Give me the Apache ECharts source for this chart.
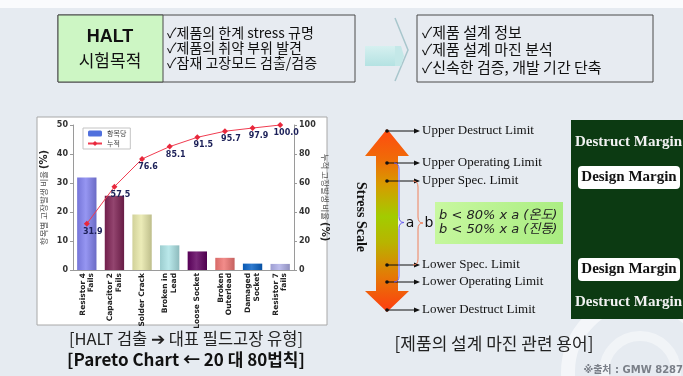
<!DOCTYPE html>
<html>
<head>
<meta charset="utf-8">
<script src="https://cdn.jsdelivr.net/npm/echarts@6/dist/echarts.min.js"></script>
<style>
  html, body { margin: 0; padding: 0; background: #e6ebf1; }
  #main { width: 683px; height: 376px; }
</style>
</head>
<body>
<div id="main"></div>
<script>
// pareto data
var categories = ['Resistor 4\nFails', 'Capacitor 2\nFails', 'Solder Crack', 'Broken in\nLead',
  'Loose Socket', 'Broken\nOuterlead', 'Damaged\nSocket', 'Resistor 7\nfails'];
var itemRatio = [31.9, 25.6, 19.1, 8.5, 6.4, 4.2, 2.2, 2.1];
var cumRatio = [31.9, 57.5, 76.6, 85.1, 91.5, 95.7, 97.9, 100.0];
var leftTicks = [0, 10, 20, 30, 40, 50];
var rightTicks = [0, 20, 40, 60, 80, 100];

// slide text
var purposeLines = ['✓제품의 한계 stress 규명', '✓제품의 취약 부위 발견', '✓잠재 고장모드 검출/검증'];
var resultLines = ['✓제품 설계 정보', '✓제품 설계 마진 분석', '✓신속한 검증, 개발 기간 단축'];
var limitNames = ['Upper Destruct Limit', 'Upper Operating Limit', 'Upper Spec. Limit',
  'Lower Spec. Limit', 'Lower Operating Limit', 'Lower Destruct Limit'];

var barColors = ['#8282f0', '#7e2254', '#e8e8aa', '#ade4e6', '#600060', '#f07674', '#0862c6', '#b0b0e8'];
var limitY = [131, 163, 181, 265, 282, 310];

var KR = '"Noto Sans CJK KR", sans-serif';
var SERIF = '"Liberation Serif", "DejaVu Serif", serif';
var SANS = '"DejaVu Sans", sans-serif';

function shade(hex, k) {
  var n = parseInt(hex.slice(1), 16);
  var r = (n >> 16) & 255, g = (n >> 8) & 255, b = n & 255;
  function f(c) {
    c = k > 0 ? c + (255 - c) * k : c * (1 + k);
    return Math.round(Math.max(0, Math.min(255, c)));
  }
  return 'rgb(' + f(r) + ',' + f(g) + ',' + f(b) + ')';
}

function brace(x0, xs, xt, yT, yB, color) {
  var ym = (yT + yB) / 2, r = 6;
  var st = { stroke: color, lineWidth: 1, fill: null };
  return [
    { type: 'bezierCurve', shape: { x1: x0, y1: yT, cpx1: xs, cpy1: yT, x2: xs, y2: yT + r }, style: st },
    { type: 'line', shape: { x1: xs, y1: yT + r, x2: xs, y2: ym - r }, style: st },
    { type: 'bezierCurve', shape: { x1: xs, y1: ym - r, cpx1: xs, cpy1: ym, x2: xt, y2: ym }, style: st },
    { type: 'bezierCurve', shape: { x1: xt, y1: ym, cpx1: xs, cpy1: ym, x2: xs, y2: ym + r }, style: st },
    { type: 'line', shape: { x1: xs, y1: ym + r, x2: xs, y2: yB - r }, style: st },
    { type: 'bezierCurve', shape: { x1: xs, y1: yB - r, cpx1: xs, cpy1: yB, x2: x0, y2: yB }, style: st }
  ];
}

var g = [];
// background
g.push({ type: 'rect', z: -10, shape: { x: 0, y: 0, width: 683, height: 8 }, style: { fill: '#fafbfd' } });
g.push({ type: 'circle', z: -9, shape: { cx: 640, cy: 372, r: 72 }, style: { fill: null, stroke: 'rgba(255,255,255,0.55)', lineWidth: 14 } });
g.push({ type: 'circle', z: -9, shape: { cx: 640, cy: 372, r: 36 }, style: { fill: null, stroke: 'rgba(255,255,255,0.45)', lineWidth: 10 } });

// top left box
g.push({ type: 'rect', shape: { x: 58, y: 15, width: 297, height: 67 }, style: { fill: '#e7ebf1', stroke: '#4a4a4a', lineWidth: 1 } });
g.push({ type: 'rect', shape: { x: 58, y: 15, width: 105, height: 67 }, style: { fill: '#cdf6c4', stroke: '#4a4a4a', lineWidth: 1 } });
g.push({ type: 'text', style: { text: 'HALT', x: 110, y: 37, textAlign: 'center', textVerticalAlign: 'middle', font: 'bold 18px "Liberation Sans", Arial, sans-serif', fill: '#111' } });
g.push({ type: 'text', style: { text: '시험목적', x: 110, y: 61, textAlign: 'center', textVerticalAlign: 'middle', font: '17px ' + KR, fill: '#111' } });
purposeLines.forEach(function (t, i) {
  g.push({ type: 'text', style: { text: t, x: 167, y: 33 + i * 15, textVerticalAlign: 'middle', font: '14px ' + KR, fill: '#111' } });
});
// chevron
g.push({ type: 'rect', shape: { x: 365, y: 46, width: 32, height: 20 }, style: { fill: new echarts.graphic.LinearGradient(0, 0, 0, 1, [{ offset: 0, color: '#d6f0f0' }, { offset: 1, color: '#b4e2e2' }]) } });
g.push({ type: 'polyline', shape: { points: [[395, 18], [408, 50], [395, 81]] }, style: { stroke: '#a8c6cc', lineWidth: 1.5, fill: null } });
g.push({ type: 'polygon', shape: { points: [[395, 46], [401, 46], [404, 56], [401, 66], [395, 66]] }, style: { fill: '#c4e8e8' } });
// top right box
g.push({ type: 'rect', shape: { x: 417, y: 15, width: 236, height: 67 }, style: { fill: '#e7ebf1', stroke: '#4a4a4a', lineWidth: 1 } });
resultLines.forEach(function (t, i) {
  g.push({ type: 'text', style: { text: t, x: 422, y: 32 + i * 17.5, textVerticalAlign: 'middle', font: '15px ' + KR, fill: '#111' } });
});

// chart panel
g.push({ type: 'rect', z: -5, shape: { x: 37, y: 117, width: 290, height: 208 }, style: { fill: '#ffffff', stroke: '#a8a8a8', lineWidth: 1 } });
g.push({ type: 'text', style: { text: '[HALT 검출 ➔ 대표 필드고장 유형]', x: 186, y: 339, textAlign: 'center', textVerticalAlign: 'middle', font: '16.5px ' + KR, fill: '#222' } });
g.push({ type: 'text', style: { text: '[Pareto Chart ← 20 대 80법칙]', x: 186, y: 360, textAlign: 'center', textVerticalAlign: 'middle', font: 'bold 17px ' + KR, fill: '#111' } });

// stress scale arrow
g.push({
  type: 'polygon',
  shape: { points: [[387, 129], [409, 156], [398, 156], [398, 291], [409, 291], [387, 312], [365, 291], [376, 291], [376, 156], [365, 156]] },
  style: {
    fill: new echarts.graphic.LinearGradient(0, 0, 0, 1, [
      { offset: 0, color: '#ff4a10' }, { offset: 0.16, color: '#f06a08' }, { offset: 0.3, color: '#d89a00' },
      { offset: 0.48, color: '#a2cc00' }, { offset: 0.62, color: '#b8b400' }, { offset: 0.8, color: '#e47a06' },
      { offset: 1, color: '#ff3c10' }])
  }
});
g.push({ type: 'text', x: 361, y: 217, rotation: -Math.PI / 2, style: { text: 'Stress Scale', x: 0, y: 0, textAlign: 'center', textVerticalAlign: 'middle', font: 'bold 14px ' + SERIF, fill: '#111' } });
limitNames.forEach(function (t, i) {
  var y = limitY[i];
  g.push({ type: 'line', shape: { x1: 387, y1: y, x2: 416, y2: y }, style: { stroke: '#111', lineWidth: 1 } });
  g.push({ type: 'circle', shape: { cx: 387, cy: y, r: 1.8 }, style: { fill: '#111' } });
  g.push({ type: 'polygon', shape: { points: [[420, y], [414, y - 2.5], [414, y + 2.5]] }, style: { fill: '#111' } });
  g.push({ type: 'text', style: { text: t, x: 422, y: y, textVerticalAlign: 'middle', font: '13px ' + SERIF, fill: '#111' } });
});
g = g.concat(brace(394, 399, 404, 163, 282, '#6a5cf0'));
g = g.concat(brace(413, 418, 423, 181, 265, '#f0805a'));
g.push({ type: 'text', style: { text: 'a', x: 410, y: 223, textAlign: 'center', textVerticalAlign: 'middle', font: '14px ' + SANS, fill: '#111' } });
g.push({ type: 'text', style: { text: 'b', x: 429, y: 223, textAlign: 'center', textVerticalAlign: 'middle', font: '14px ' + SANS, fill: '#111' } });
g.push({ type: 'rect', shape: { x: 435, y: 202, width: 128, height: 42 }, style: { fill: new echarts.graphic.LinearGradient(0, 0, 1, 1, [{ offset: 0, color: '#c8f8a0' }, { offset: 1, color: '#a8ec80' }]) } });
g.push({ type: 'text', style: { text: 'b < 80% x a (온도)', x: 439, y: 216, textVerticalAlign: 'middle', font: 'italic 13px "DejaVu Sans", ' + KR, fill: '#222' } });
g.push({ type: 'text', style: { text: 'b < 50% x a (진동)', x: 439, y: 230, textVerticalAlign: 'middle', font: 'italic 13px "DejaVu Sans", ' + KR, fill: '#222' } });

// margin panel
g.push({ type: 'rect', shape: { x: 571, y: 120, width: 120, height: 199 }, style: { fill: '#0c3a12' } });
g.push({ type: 'text', style: { text: 'Destruct Margin', x: 575, y: 142, textVerticalAlign: 'middle', font: 'bold 15px ' + SERIF, fill: '#f2f2f2' } });
g.push({ type: 'text', style: { text: 'Destruct Margin', x: 575, y: 302, textVerticalAlign: 'middle', font: 'bold 15px ' + SERIF, fill: '#f2f2f2' } });
[177, 269].forEach(function (y) {
  g.push({ type: 'rect', shape: { x: 578, y: y - 11, width: 102, height: 23, r: 4 }, style: { fill: '#ffffff' } });
  g.push({ type: 'text', style: { text: 'Design Margin', x: 629, y: y, textAlign: 'center', textVerticalAlign: 'middle', font: 'bold 15px ' + SERIF, fill: '#111' } });
});
g.push({ type: 'text', style: { text: '[제품의 설계 마진 관련 용어]', x: 494, y: 344, textAlign: 'center', textVerticalAlign: 'middle', font: '17px ' + KR, fill: '#222' } });
g.push({ type: 'text', style: { text: '※출처 : GMW 8287', x: 683, y: 370, textAlign: 'right', textVerticalAlign: 'middle', font: 'bold 10px "DejaVu Sans", ' + KR, fill: '#7a7f88' } });

var nameRich = {
  a: { fontSize: 8.5, color: '#555', fontFamily: KR },
  b: { fontSize: 10, fontWeight: 'bold', color: '#222', fontFamily: SANS }
};

var chart = echarts.init(document.getElementById('main'));
chart.setOption({
  animation: false,
  backgroundColor: '#e6ebf1',
  graphic: g,
  legend: {
    orient: 'vertical', left: 83, top: 128, itemWidth: 14, itemHeight: 6, itemGap: 3,
    padding: [2, 4], borderColor: '#c4c4c4', borderWidth: 1, backgroundColor: '#fff',
    textStyle: { fontSize: 7, color: '#444', fontFamily: KR }
  },
  grid: { left: 73, right: 389, top: 125, bottom: 106 },
  xAxis: {
    type: 'category',
    data: categories,
    axisLine: { lineStyle: { color: '#9a9a9a' } },
    axisTick: { show: false },
    axisLabel: {
      rotate: 90, interval: 0, margin: 3, fontSize: 7.5, lineHeight: 8.5,
      fontWeight: 'bold', color: '#222', fontFamily: SANS
    }
  },
  yAxis: [{
    type: 'value', min: leftTicks[0], max: leftTicks[leftTicks.length - 1], interval: leftTicks[1] - leftTicks[0],
    name: '{a|항목별 고장발생 비율 }{b|(%)}', nameLocation: 'middle', nameGap: 24, nameRotate: 90,
    nameTextStyle: { rich: nameRich },
    axisLine: { show: true, lineStyle: { color: '#9a9a9a' } },
    axisTick: { show: true, length: 3, lineStyle: { color: '#9a9a9a' } },
    axisLabel: { fontSize: 8, fontWeight: 'bold', color: '#333', margin: 5, fontFamily: SANS },
    splitLine: { show: false }
  }, {
    type: 'value', min: rightTicks[0], max: rightTicks[rightTicks.length - 1], interval: rightTicks[1] - rightTicks[0],
    name: '{a|누적 고장발생 비율 }{b|(%)}', nameLocation: 'middle', nameGap: 26, nameRotate: -90,
    nameTextStyle: { rich: nameRich },
    axisLine: { show: true, lineStyle: { color: '#9a9a9a' } },
    axisTick: { show: true, length: 3, lineStyle: { color: '#9a9a9a' } },
    axisLabel: { fontSize: 8, fontWeight: 'bold', color: '#333', margin: 5, fontFamily: SANS },
    splitLine: { show: false }
  }],
  series: [{
    name: '항목당',
    type: 'bar',
    data: itemRatio,
    barWidth: '70%',
    itemStyle: {
      color: function (p) {
        var c = barColors[p.dataIndex % barColors.length];
        return new echarts.graphic.LinearGradient(0, 0, 1, 0, [
          { offset: 0, color: shade(c, -0.1) }, { offset: 0.45, color: shade(c, 0.16) }, { offset: 1, color: shade(c, -0.18) }]);
      }
    }
  }, {
    name: '누적',
    type: 'line',
    yAxisIndex: 1,
    data: cumRatio,
    color: '#f03c50',
    lineStyle: { width: 1, color: '#f03c50' },
    symbol: 'diamond', symbolSize: 6,
    itemStyle: { color: '#e8283c' },
    label: {
      show: true, position: 'bottom', offset: [6, -1], distance: 2,
      fontSize: 8, fontWeight: 'bold', color: '#1c2058', fontFamily: SANS,
      formatter: function (p) { return p.value.toFixed(1); }
    }
  }]
});
</script>
</body>
</html>
